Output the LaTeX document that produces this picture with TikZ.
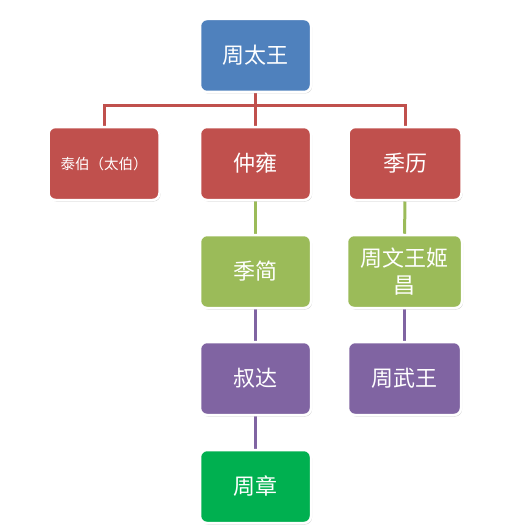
\documentclass[tikz,border=0pt]{standalone}
\usepackage{fontspec}
\setmainfont{Noto Sans CJK SC}
\usepackage{tikz}
\usetikzlibrary{shadows,backgrounds}

\definecolor{boxblue}{HTML}{4F81BD}
\definecolor{boxred}{HTML}{C0504D}
\definecolor{boxgreen}{HTML}{9BBB59}
\definecolor{boxpurple}{HTML}{8064A2}
\definecolor{boxlime}{HTML}{00B050}

\begin{document}
\begin{tikzpicture}[x=1pt,y=1pt,
  person/.style={draw=white,line width=2.5pt,rounded corners=7pt,
    minimum width=111pt,minimum height=73pt,inner sep=2pt,align=center,
    text=white,font=\fontsize{22}{27}\selectfont,
    drop shadow={opacity=0.35,shadow xshift=1pt,shadow yshift=-1.5pt}},
  link/.style={line width=3pt}]
\useasboundingbox (0,0) rectangle (529,-532);
% boxes
\node[person,fill=boxblue] (taiwang) at (255.5,-55.5) {周太王};
\node[person,fill=boxred,font=\fontsize{14.5}{17}\selectfont] (taibo) at (104,-163.5) {泰伯（太伯）};
\node[person,fill=boxred] (zhongyong) at (255.5,-163.5) {仲雍};
\node[person,fill=boxred,minimum width=113pt] (jili) at (405,-163.5) {季历};
\node[person,fill=boxgreen] (jijian) at (255.5,-271.5) {季简};
\node[person,fill=boxgreen,minimum width=115pt] (wenwang) at (404.5,-271.5) {周文王姬\\昌};
\node[person,fill=boxpurple] (shuda) at (255.5,-378.5) {叔达};
\node[person,fill=boxpurple,minimum width=113pt] (wuwang) at (404.5,-378.5) {周武王};
\node[person,fill=boxlime] (zhouzhang) at (255.5,-486.5) {周章};
\coordinate (fork) at (255.5,-106);
% generation lines behind the boxes
\begin{scope}[on background layer]
\draw[link,boxred] (taiwang) -- (fork);
\draw[link,boxred] (taibo) |- (fork) -| (jili);
\draw[link,boxred] (fork) -- (zhongyong);
\draw[link,boxgreen] (zhongyong) -- (jijian);
\draw[link,boxgreen] (jili) -- (wenwang);
\draw[link,boxpurple] (jijian) -- (shuda);
\draw[link,boxpurple] (wenwang) -- (wuwang);
\draw[link,boxpurple] (shuda) -- (zhouzhang);
\end{scope}
\end{tikzpicture}
\end{document}
